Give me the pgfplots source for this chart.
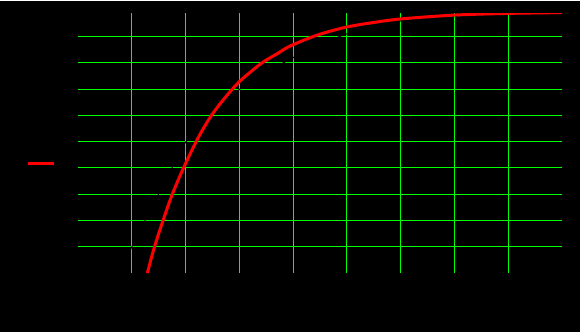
\documentclass[border=0pt]{standalone}
\usepackage{pgfplots}
\pgfplotsset{compat=1.18}
\begin{document}
\begin{tikzpicture}
\useasboundingbox (0,0) rectangle (580pt,332pt);
\fill[black] (0,0) rectangle (580pt,332pt);
\fill[white] (0,331pt) rectangle (580pt,332pt);
\begin{axis}[
  at={(78pt,59pt)}, anchor=south west,
  scale only axis, width=484pt, height=260pt,
  xmin=0, xmax=9, ymin=0, ymax=9.9,
  xtick={1,...,8}, ytick={1,...,9},
  grid=major,
  grid style={draw={rgb,255:red,0;green,255;blue,0}, line width=1pt},
  axis line style={draw=none},
  tick style={draw=none},
  ticklabel style={text=black},
  xticklabels={}, yticklabels={},
  legend style={at={(axis description cs:-0.1054,0.421)}, anchor=west,
    draw=none, fill=none, inner sep=0pt, outer sep=0pt,
    nodes={inner sep=0pt, outer sep=0pt, text=black}},
  legend image code/.code={\draw[#1] (0pt,0pt) -- (26pt,0pt);},
]
\addplot[black, line width=1pt, smooth, forget plot] coordinates {
  (0.76,0) (1.0,0.99) (1.24,1.98) (1.49,2.97) (1.74,3.96) (1.99,4.95)
  (2.99,6.97) (3.99,8.19) (4.99,9.10) (6.0,9.6) (7.0,9.8) (8.0,9.88) (9.0,9.92)
};
\addplot[red, line width=3pt, smooth, tension=0.5] coordinates {
  (1.29,0) (1.42,0.98) (1.578,1.98) (1.748,2.97) (1.953,3.96)
  (2.184,4.95) (2.316,5.45) (2.475,5.98) (2.650,6.465) (2.852,6.96)
  (2.999,7.28) (3.105,7.478) (3.413,7.99) (3.72,8.37) (3.942,8.64)
  (4.45,9.06) (4.983,9.36) (5.5,9.54) (6.006,9.675) (6.991,9.82)
  (7.995,9.885) (9.0,9.915)
};
\addlegendentry{}
\end{axis}
\end{tikzpicture}
\end{document}
